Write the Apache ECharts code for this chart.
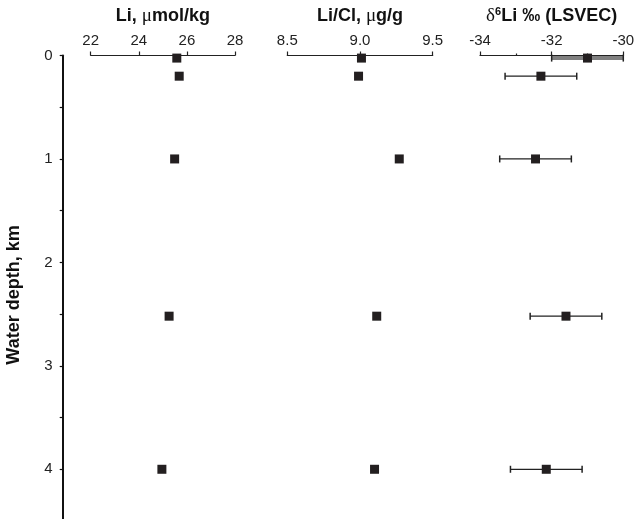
<!DOCTYPE html>
<html>
<head>
<meta charset="utf-8">
<script src="https://cdn.jsdelivr.net/npm/echarts@6/dist/echarts.min.js"></script>
<style>
  html, body { margin: 0; padding: 0; background: #fff; }
  #chart { width: 634px; height: 519px; }
</style>
</head>
<body>
<div id="chart"></div>
<script>
// Water-column profiles: sample depth (km) and measured values
const depthKm = [0.025, 0.2, 1.0, 2.52, 4.0];
const liUmolKg = [25.58, 25.68, 25.49, 25.26, 24.96];
const liClUgG = [9.01, 8.99, 9.27, 9.115, 9.10];
const d6Li = [-31.0, -32.3, -32.45, -31.6, -32.15];
const d6LiErr = [1.0, 1.0, 1.0, 1.0, 1.0];

const depthTicks = [0, 1, 2, 3, 4];

const ink = '#231f20';
const font = 'Liberation Sans, Arial, sans-serif';

const plotTop = 55.5, plotH = 465.5;
const panels = [
  { left: 90.7, width: 144.3 },
  { left: 287.3, width: 145.4 },
  { left: 480, width: 143.3 },
  { left: 62.7, width: 20 }
];

function pairs(xs) { return xs.map((x, i) => [x, depthKm[i]]); }

const titleStyle = {
  fontFamily: font, fontWeight: 'bold', fontSize: 18, color: '#111',
  rich: {
    mu: { fontFamily: 'Liberation Serif, serif', fontWeight: 'normal', fontSize: 19, color: '#111' },
    d: { fontFamily: 'Liberation Serif, serif', fontWeight: 'normal', fontSize: 19, color: '#111' },
    sup: { fontFamily: font, fontWeight: 'bold', fontSize: 11, color: '#111', padding: [0, 0, 8, 0] },
    b: { fontFamily: font, fontWeight: 'bold', fontSize: 18, color: '#111' }
  }
};

function topAxis(idx, min, max, interval, name, fmt, minor) {
  return {
    type: 'value', gridIndex: idx, position: 'top', min, max, interval,
    name, nameLocation: 'middle', nameGap: 30, nameTextStyle: titleStyle,
    axisLine: { show: true, lineStyle: { color: '#222', width: 1.2 } },
    axisTick: { show: true, length: 4, lineStyle: { color: '#222', width: 1.2 } },
    minorTick: minor ? { show: true, splitNumber: 2, length: 2, lineStyle: { color: '#222', width: 1.2 } } : { show: false },
    axisLabel: { fontFamily: font, fontSize: 15, color: '#222', margin: 7, formatter: fmt, showMinLabel: true, showMaxLabel: true },
    splitLine: { show: false }, minorSplitLine: { show: false }
  };
}

function hiddenDepthAxis(idx) {
  return { type: 'value', gridIndex: idx, min: 0, max: 4.5, inverse: true, show: false };
}

const option = {
  animation: false,
  backgroundColor: '#fff',
  grid: panels.map(p => ({
    left: p.left, top: plotTop, width: p.width, height: plotH,
    outerBoundsMode: 'none', containLabel: false
  })),
  xAxis: [
    topAxis(0, 22, 28, 2, '{b|Li, }{mu|μ}{b|mol/kg}', v => String(v), false),
    topAxis(1, 8.5, 9.5, 0.5, '{b|Li/Cl, }{mu|μ}{b|g/g}', v => v.toFixed(1), false),
    topAxis(2, -34, -30, 2, '{d|δ}{sup|6}{b|Li ‰ (LSVEC)}', v => String(v), true),
    { type: 'value', gridIndex: 3, min: 0, max: 1, show: false }
  ],
  yAxis: [
    hiddenDepthAxis(0), hiddenDepthAxis(1), hiddenDepthAxis(2),
    {
      type: 'value', gridIndex: 3, min: 0, max: 4.5, interval: 0.5, inverse: true,
      axisLine: { show: true, lineStyle: { color: '#111', width: 2 } },
      axisTick: { show: true, length: 3, lineStyle: { color: '#111', width: 1.2 } },
      axisLabel: {
        fontFamily: font, fontSize: 15, color: '#222', margin: 10,
        formatter: v => depthTicks.includes(v) ? String(v) : ''
      },
      splitLine: { show: false }
    }
  ],
  graphic: [{
    type: 'text', x: 14, y: 295, rotation: Math.PI / 2,
    style: {
      text: 'Water depth, km', fontFamily: font, fontWeight: 'bold', fontSize: 18,
      fill: '#111', align: 'center', verticalAlign: 'middle'
    }
  }],
  series: [
    {
      type: 'custom', xAxisIndex: 2, yAxisIndex: 2, z: 2,
      data: d6Li.map((v, i) => [v - d6LiErr[i], v + d6LiErr[i], depthKm[i], i]),
      renderItem: (params, api) => {
        const lo = api.coord([api.value(0), api.value(2)]);
        const hi = api.coord([api.value(1), api.value(2)]);
        const first = api.value(3) === 0;
        const y = lo[1];
        const cap = 3.5;
        return {
          type: 'group',
          children: [
            { type: 'line', shape: { x1: lo[0], y1: y, x2: hi[0], y2: y },
              style: { stroke: first ? '#808080' : '#222', lineWidth: first ? 4 : 1.3 } },
            { type: 'line', shape: { x1: lo[0], y1: y - cap, x2: lo[0], y2: y + cap },
              style: { stroke: '#222', lineWidth: 1.5 } },
            { type: 'line', shape: { x1: hi[0], y1: y - cap, x2: hi[0], y2: y + cap },
              style: { stroke: '#222', lineWidth: 1.5 } }
          ]
        };
      }
    },
    { type: 'scatter', xAxisIndex: 0, yAxisIndex: 0, symbol: 'rect', symbolSize: 9, z: 3,
      itemStyle: { color: ink, opacity: 1 }, data: pairs(liUmolKg) },
    { type: 'scatter', xAxisIndex: 1, yAxisIndex: 1, symbol: 'rect', symbolSize: 9, z: 3,
      itemStyle: { color: ink, opacity: 1 }, data: pairs(liClUgG) },
    { type: 'scatter', xAxisIndex: 2, yAxisIndex: 2, symbol: 'rect', symbolSize: 9, z: 3,
      itemStyle: { color: ink, opacity: 1 }, data: pairs(d6Li) }
  ]
};

const chart = echarts.init(document.getElementById('chart'), null, { renderer: 'canvas' });
chart.setOption(option);
</script>
</body>
</html>
